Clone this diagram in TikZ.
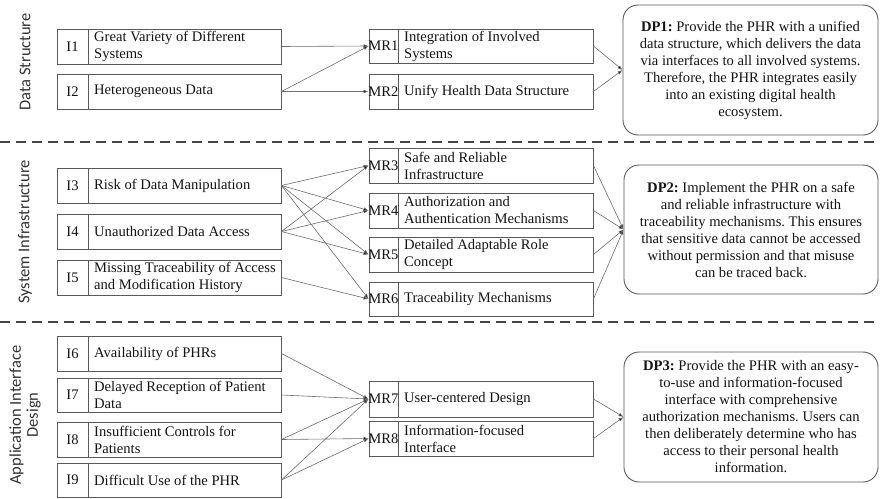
\documentclass[tikz,border=0pt]{standalone}
\usepackage{fontspec}
\setmainfont{Liberation Serif}
\newfontfamily\lblfont{Carlito}
\usetikzlibrary{fit,arrows.meta}
\definecolor{boxgray}{HTML}{5A5A5A}
\definecolor{linegray}{HTML}{6E6E6E}
\definecolor{dashgray}{HTML}{444444}
\frenchspacing
\tikzset{
  frame/.style={draw=boxgray, line width=0.9pt, inner sep=0pt},
  dpframe/.style={draw=boxgray, line width=0.9pt, inner sep=0pt, rounded corners=15pt},
  conn/.style={draw=linegray, line width=0.6pt, -{Latex[length=5pt,width=3.6pt,fill=black]}},
  txt/.style={font=\fontsize{14.6}{17}\selectfont, inner sep=0pt, text=black!92},
  lbl/.style={font=\lblfont\fontsize{16.5}{17}\selectfont, inner sep=0pt, rotate=90, align=center, text=black!80},
  sep/.style={draw=dashgray, line width=1.6pt, dash pattern=on 10pt off 6pt},
}
\newcommand\rbox[8]{%
  \coordinate (#1a) at (#2,#3); \coordinate (#1b) at (#4,#5);
  \node[frame, fit=(#1a)(#1b)] (#1) {};
  \draw[boxgray, line width=0.9pt] (#6,#3) -- (#6,#5);
  \node[txt] at ({(#2+#6)/2},{(#3+#5)/2}) {#7};
  \node[txt, anchor=west, align=left] at ({#6+6},{(#3+#5)/2}) {#8};
}
\newcommand\dpbox[6]{%
  \coordinate (#1a) at (#2,#3); \coordinate (#1b) at (#4,#5);
  \node[dpframe, fit=(#1a)(#1b)] (#1) {};
  \node[txt, align=center] at (#1.center) {#6};
}
\begin{document}
\begin{tikzpicture}[x=1pt,y=-1pt]
\useasboundingbox[fill=white] (0,0) rectangle (880,498);

% separators
\draw[sep] (0,142) coordinate (s1a) -- (880,142) coordinate (s1b);
\draw[sep] (0,322) coordinate (s2a) -- (880,322) coordinate (s2b);

% side labels
\node[lbl] (L1) at (25,62) {Data Structure};
\node[lbl] (L2) at (25,232) {System Infrastructure};
\node[lbl] (L3) at (25,415) {Application Interface\\Design};

% issue boxes
\rbox{I1}{57}{29}{281}{64}{88}{I1}{Great Variety of Different\\Systems}
\rbox{I2}{57}{74}{281}{109}{88}{I2}{Heterogeneous Data}
\rbox{I3}{57}{168}{281}{203}{88}{I3}{Risk of Data Manipulation}
\rbox{I4}{57}{214}{281}{249}{88}{I4}{Unauthorized Data Access}
\rbox{I5}{57}{260}{281}{295}{88}{I5}{Missing Traceability of Access\\and Modification History}
\rbox{I6}{57}{336}{281}{371}{88}{I6}{Availability of PHRs}
\rbox{I7}{57}{378}{281}{412}{88}{I7}{Delayed Reception of Patient\\Data}
\rbox{I8}{57}{422}{281}{457}{88}{I8}{Insufficient Controls for\\Patients}
\rbox{I9}{57}{463}{281}{497}{88}{I9}{Difficult Use of the PHR}

% requirement boxes
\rbox{MR1}{369}{29}{593}{63}{398}{MR1}{Integration of Involved\\Systems}
\rbox{MR2}{369}{74}{593}{109}{398}{MR2}{Unify Health Data Structure}
\rbox{MR3}{369}{148}{593}{183}{398}{MR3}{Safe and Reliable\\Infrastructure}
\rbox{MR4}{369}{193}{593}{228}{398}{MR4}{Authorization and\\Authentication Mechanisms}
\rbox{MR5}{369}{237}{593}{272}{398}{MR5}{Detailed Adaptable Role\\Concept}
\rbox{MR6}{369}{282}{593}{316}{398}{MR6}{Traceability Mechanisms}
\rbox{MR7}{369}{381}{593}{417}{398}{MR7}{User-centered Design}
\rbox{MR8}{369}{421}{593}{456}{398}{MR8}{Information-focused\\Interface}

% design principles
\dpbox{DP1}{623}{5}{878}{135}{\textbf{DP1:} Provide the PHR with a unified\\data structure, which delivers the data\\via interfaces to all involved systems.\\Therefore, the PHR integrates easily\\into an existing digital health\\ecosystem.}
\dpbox{DP2}{624}{165}{878}{294}{\textbf{DP2:} Implement the PHR on a safe\\and reliable infrastructure with\\traceability mechanisms. This ensures\\that sensitive data cannot be accessed\\without permission and that misuse\\can be traced back.}
\dpbox{DP3}{624}{352}{878}{482}{\textbf{DP3:} Provide the PHR with an easy-\\to-use and information-focused\\interface with comprehensive\\authorization mechanisms. Users can\\then deliberately determine who has\\access to their personal health\\information.}

% issue -> requirement
\draw[conn] (I1.east) -- (MR1.west);
\draw[conn] (I2.east) -- (MR1.west);
\draw[conn] (I2.east) -- (MR2.west);
\draw[conn] (I3.east) -- (MR3.west);
\draw[conn] (I3.east) -- (MR4.west);
\draw[conn] (I3.east) -- (MR5.west);
\draw[conn] (I3.east) -- (MR6.west);
\draw[conn] (I4.east) -- (MR3.west);
\draw[conn] (I4.east) -- (MR4.west);
\draw[conn] (I4.east) -- (MR5.west);
\draw[conn] (I5.east) -- (MR6.west);
\draw[conn] (I6.east) -- (MR7.west);
\draw[conn] (I7.east) -- (MR7.west);
\draw[conn] (I8.east) -- (MR7.west);
\draw[conn] (I8.east) -- (MR8.west);
\draw[conn] (I9.east) -- (MR7.west);
\draw[conn] (I9.east) -- (MR8.west);

% requirement -> principle
\draw[conn] (MR1.east) -- (DP1.west);
\draw[conn] (MR2.east) -- (DP1.west);
\draw[conn] (MR3.east) -- (DP2.west);
\draw[conn] (MR4.east) -- (DP2.west);
\draw[conn] (MR5.east) -- (DP2.west);
\draw[conn] (MR6.east) -- (DP2.west);
\draw[conn] (MR7.east) -- (DP3.west);
\draw[conn] (MR8.east) -- (DP3.west);
\end{tikzpicture}
\end{document}
